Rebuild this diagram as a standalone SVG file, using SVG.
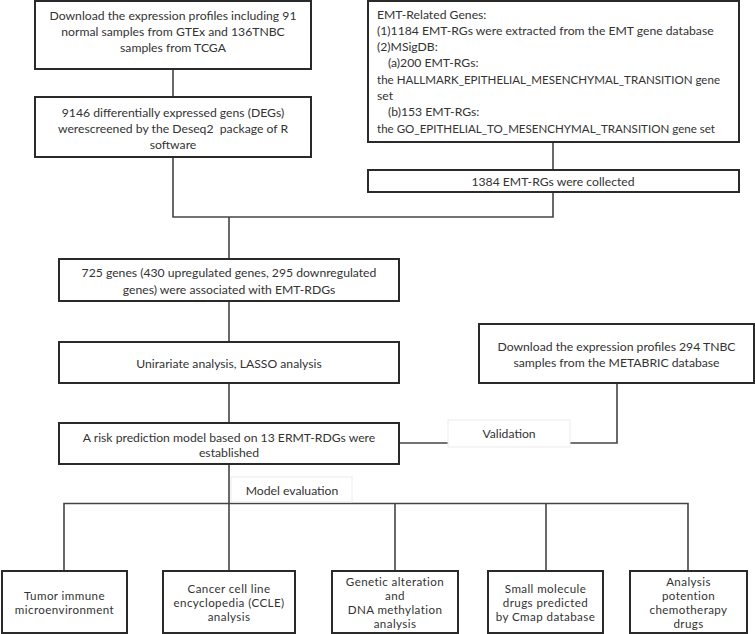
<svg xmlns="http://www.w3.org/2000/svg" width="755" height="634" viewBox="0 0 755 634">
<style>
.box{fill:#fff;stroke:#2a2a2a;stroke-width:2}
.lbl{fill:#fff;stroke:#ececec;stroke-width:1}
.t{font-family:Lato,"Noto Sans","DejaVu Sans",sans-serif;font-size:12.2px;fill:#333;text-anchor:middle}
.s{font-size:11.6px;letter-spacing:0.4px}
.l{text-anchor:start}
.c{fill:none;stroke:#444;stroke-width:1.6}
</style>
<rect width="755" height="634" fill="#fff"/>
<g id="connectors">
<path class="c" d="M173 69V97"/>
<path class="c" d="M553 142V170"/>
<path class="c" d="M173 157V217H553V192"/>
<path class="c" d="M229 217V259"/>
<path class="c" d="M229 301V342"/>
<path class="c" d="M229 383V423"/>
<path class="c" d="M617 383V443H399"/>
<path class="c" d="M229 464V571"/>
<path class="c" d="M64 571V503.5H688V571"/>
<path class="c" d="M395 503.5V571"/>
<path class="c" d="M546 503.5V571"/>
</g>
<g id="n1"><rect class="box" x="35" y="1" width="276" height="68"/>
<text class="t" x="173" y="19.5">Download the expression profiles including 91</text>
<text class="t" x="173" y="35.5">normal samples from GTEx and 136TNBC</text>
<text class="t" x="173" y="51.5">samples from TCGA</text></g>
<g id="n2"><rect class="box" x="35" y="97" width="276" height="60"/>
<text class="t" x="173" y="116.5">9146 differentially expressed gens (DEGs)</text>
<text class="t" x="173" y="132.5" xml:space="preserve">werescreened by the Deseq2  package of R</text>
<text class="t" x="173" y="148.5">software</text></g>
<g id="n3"><rect class="box" x="368" y="1" width="371" height="141"/>
<text class="t l" x="377" y="18.5">EMT-Related Genes:</text>
<text class="t l" x="377" y="34.8">(1)1184 EMT-RGs were extracted from the EMT gene database</text>
<text class="t l" x="377" y="51.1">(2)MSigDB:</text>
<text class="t l" x="388" y="67.4">(a)200 EMT-RGs:</text>
<text class="t l" x="377" y="83.7" textLength="343" lengthAdjust="spacingAndGlyphs">the HALLMARK_EPITHELIAL_MESENCHYMAL_TRANSITION gene</text>
<text class="t l" x="377" y="100">set</text>
<text class="t l" x="388" y="116.3">(b)153 EMT-RGs:</text>
<text class="t l" x="377" y="132.6" textLength="338" lengthAdjust="spacingAndGlyphs">the GO_EPITHELIAL_TO_MESENCHYMAL_TRANSITION gene set</text></g>
<g id="n4"><rect class="box" x="368" y="170" width="371" height="22"/>
<text class="t" x="553" y="185.5">1384 EMT-RGs were collected</text></g>
<g id="n5"><rect class="box" x="59" y="259" width="340" height="42"/>
<text class="t" x="229" y="276.5">725 genes (430 upregulated genes, 295 downregulated</text>
<text class="t" x="229" y="293.5">genes) were associated with EMT-RDGs</text></g>
<g id="n6"><rect class="box" x="59" y="342" width="340" height="41"/>
<text class="t" x="229" y="367.5">Unirariate analysis, LASSO analysis</text></g>
<g id="n7"><rect class="box" x="479" y="324" width="275" height="59"/>
<text class="t" x="616.5" y="350.5">Download the expression profiles 294 TNBC</text>
<text class="t" x="616.5" y="366.5">samples from the METABRIC database</text></g>
<g id="n8"><rect class="box" x="59" y="423" width="340" height="41"/>
<text class="t" x="229" y="441.5">A risk prediction model based on 13 ERMT-RDGs were</text>
<text class="t" x="229" y="456.5">established</text></g>
<g id="validation"><rect class="lbl" x="448" y="420" width="122" height="27"/>
<text class="t" x="509" y="437.5">Validation</text></g>
<g id="model-evaluation"><rect class="lbl" x="231" y="477" width="121" height="25"/>
<text class="t" x="292" y="494.5">Model evaluation</text></g>
<g id="b1"><rect class="box" x="2" y="571" width="125" height="62"/>
<text class="t s" x="64.5" y="600">Tumor immune</text>
<text class="t s" x="64.5" y="614">microenvironment</text></g>
<g id="b2"><rect class="box" x="163" y="571" width="132" height="62"/>
<text class="t s" x="229" y="593">Cancer cell line</text>
<text class="t s" x="229" y="607">encyclopedia (CCLE)</text>
<text class="t s" x="229" y="621">analysis</text></g>
<g id="b3"><rect class="box" x="332" y="571" width="126" height="62"/>
<text class="t s" x="395" y="586">Genetic alteration</text>
<text class="t s" x="395" y="600">and</text>
<text class="t s" x="395" y="614">DNA methylation</text>
<text class="t s" x="395" y="628">analysis</text></g>
<g id="b4"><rect class="box" x="488" y="571" width="115" height="62"/>
<text class="t s" x="545.5" y="593">Small molecule</text>
<text class="t s" x="545.5" y="607">drugs predicted</text>
<text class="t s" x="545.5" y="621">by Cmap database</text></g>
<g id="b5"><rect class="box" x="630" y="571" width="117" height="62"/>
<text class="t s" x="688.5" y="586">Analysis</text>
<text class="t s" x="688.5" y="600">potention</text>
<text class="t s" x="688.5" y="614">chemotherapy</text>
<text class="t s" x="688.5" y="628">drugs</text></g>
</svg>
